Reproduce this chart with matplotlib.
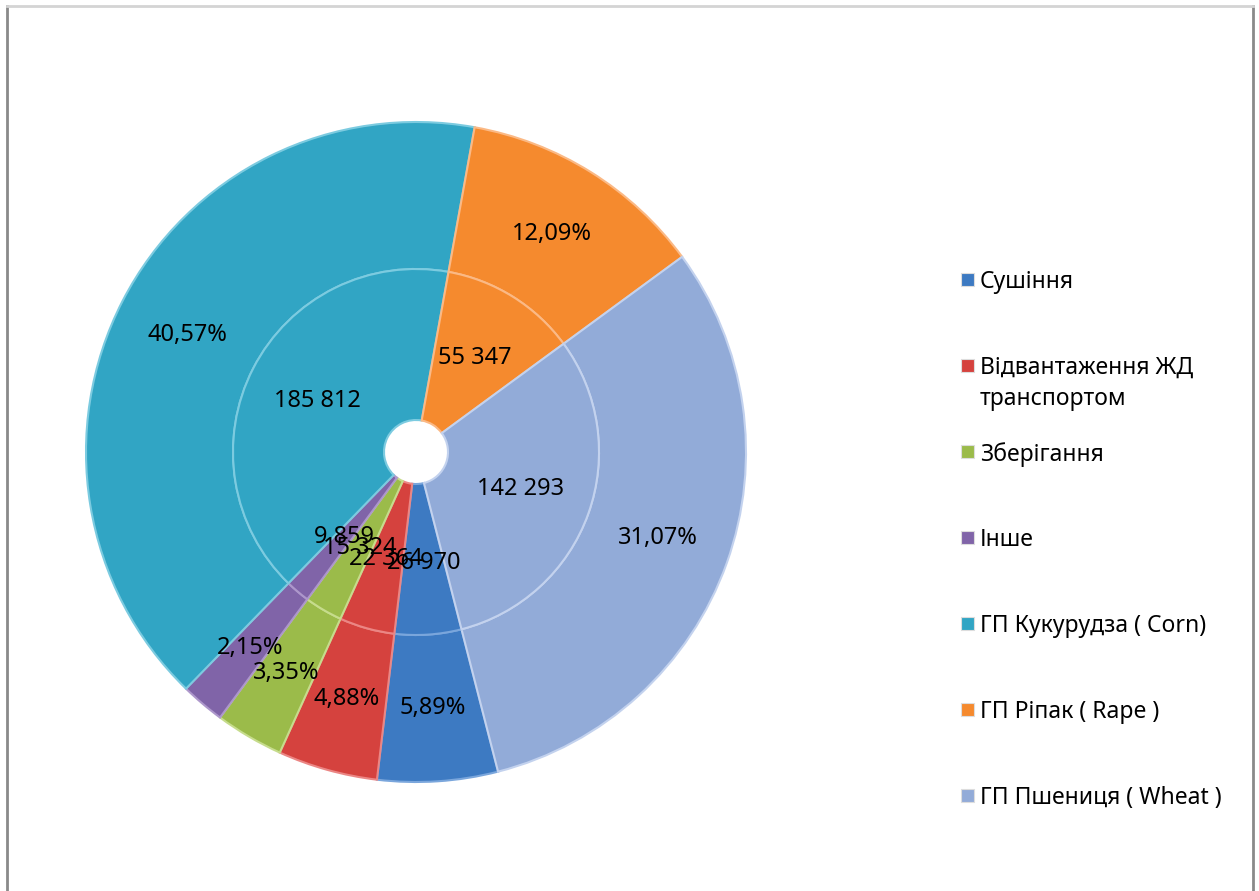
import numpy as np
import matplotlib.pyplot as plt
from matplotlib.patches import Rectangle
from matplotlib.lines import Line2D

plt.rcParams['font.family'] = ['Noto Sans', 'DejaVu Sans']

# data (order as in the legend)
names = ['Сушіння', 'Відвантаження ЖД\nтранспортом', 'Зберігання', 'Інше',
         'ГП Кукурудза ( Corn)', 'ГП Ріпак ( Rape )', 'ГП Пшениця ( Wheat )']
volumes = [26970, 22364, 15324, 9859, 185812, 55347, 142293]
volume_labels = ['26 970', '22 364', '15 324', '9 859', '185 812', '55 347', '142 293']
share_labels = ['5,89%', '4,88%', '3,35%', '2,15%', '40,57%', '12,09%', '31,07%']
colors = ['#3d7ac2', '#d5423e', '#9bbb4a', '#8064a8', '#31a5c4', '#f58a2e', '#92abd8']
edge_colors = ['#7aa6dc', '#eb8684', '#c6dc8c', '#ad97cb', '#7ccbe0', '#fbb985', '#c3d2ee']

W, H = 1259, 891
fig = plt.figure(figsize=(W / 100, H / 100), dpi=100)

# pie centre (416, 452) px, outer radius 330 px
cx, cy, R = 416, 452, 330
ax = fig.add_axes([(cx - R) / W, (H - cy - R) / H, 2 * R / W, 2 * R / H])

r_mid = 183 / R
r_hole = 32 / R
start = -75.6

outer, _ = ax.pie(volumes, radius=1, colors=colors, startangle=start, counterclock=False,
                  wedgeprops=dict(width=1 - r_mid, linewidth=1.5))
inner, _ = ax.pie(volumes, radius=r_mid, colors=colors, startangle=start, counterclock=False,
                  wedgeprops=dict(width=r_mid - r_hole, linewidth=1.5))
for w, ec in zip(outer, edge_colors):
    w.set_edgecolor(ec)
for w, ec in zip(inner, edge_colors):
    w.set_edgecolor(ec)

ax.set_xlim(-1, 1)
ax.set_ylim(-1, 1)
ax.set_aspect('equal')
ax.axis('off')

for w, lab in zip(outer, share_labels):
    a = np.deg2rad((w.theta1 + w.theta2) / 2)
    r = (1 + r_mid) / 2
    ax.text(r * np.cos(a), r * np.sin(a), lab, ha='center', va='center', fontsize=17, color='black')
for w, lab in zip(inner, volume_labels):
    a = np.deg2rad((w.theta1 + w.theta2) / 2)
    r = (r_mid + r_hole) / 2 + 0.01
    ax.text(r * np.cos(a), r * np.sin(a), lab, ha='center', va='center', fontsize=17, color='black')

# legend, drawn by hand to keep Excel's spacing
for i, (name, c) in enumerate(zip(names, colors)):
    yc = 280 + i * 86.0
    fig.add_artist(Rectangle((961 / W, 1 - (yc + 6) / H), 13 / W, 13 / H,
                             transform=fig.transFigure, facecolor=c, edgecolor='#dddddd', lw=0.8))
    fig.text(980 / W, 1 - (yc - 10) / H, name, ha='left', va='top', fontsize=16.5,
             color='black', linespacing=1.4)

# chart frame
fig.add_artist(Line2D([7 / W, 7 / W], [0, 1 - 6 / H], transform=fig.transFigure, color='#8a8a8a', lw=2))
fig.add_artist(Line2D([1253 / W, 1253 / W], [0, 1 - 6 / H], transform=fig.transFigure, color='#8a8a8a', lw=2))
fig.add_artist(Line2D([7 / W, 1253 / W], [1 - 6 / H, 1 - 6 / H], transform=fig.transFigure, color='#d4d4d4', lw=2))

fig.savefig('out.png', dpi=100)
